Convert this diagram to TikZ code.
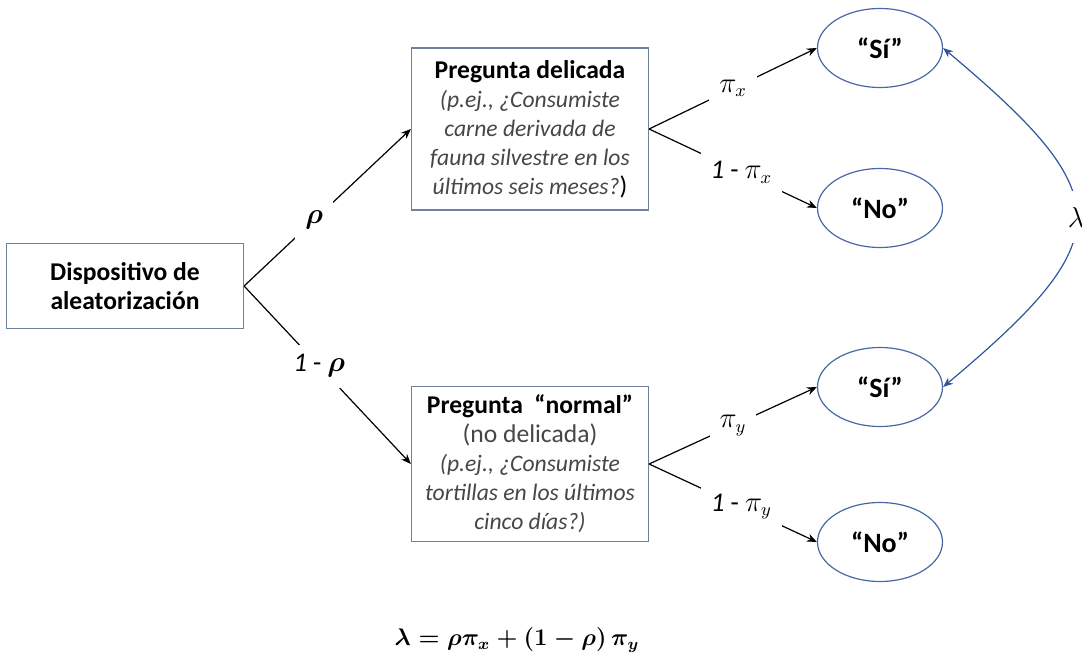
\documentclass[tikz,border=0pt]{standalone}
\usepackage{amsmath}
\usepackage{fontspec}
\setmainfont{Carlito}
\usetikzlibrary{arrows.meta,positioning,shapes.geometric}
\definecolor{boxline}{RGB}{110,130,160}
\definecolor{ovalline}{RGB}{70,105,165}
\definecolor{lamline}{RGB}{45,85,160}
\definecolor{qtext}{RGB}{70,70,70}
\newcommand{\qfont}{\fontsize{12.8}{14.5}\selectfont}
\newcommand{\pfont}{\fontsize{13.5}{15}\selectfont}
\newcommand{\ffont}{\fontsize{12}{14}\selectfont}
\newcommand{\qexample}[1]{\textcolor{qtext}{\fontsize{11.8}{14.5}\selectfont\textit{#1}}}
\tikzset{
  qbox/.style={rectangle,draw=boxline,align=center,minimum width=118.5pt,inner sep=2pt,font=\qfont},
  answer/.style={ellipse,draw=ovalline,minimum width=62.5pt,minimum height=39.5pt,inner sep=1pt,font=\bfseries\fontsize{14}{16}\selectfont},
  prob/.style={fill=white,inner sep=5pt,font=\pfont},
}

\begin{document}
\begin{tikzpicture}[x=0.5pt,y=0.5pt,>={Stealth[length=5pt,width=4pt]},semithick]
  \useasboundingbox (0,0) rectangle (1082,-652);
  % randomizing device and the two questions
  \node[qbox,minimum height=42.5pt,font=\bfseries\qfont] (disp) at (125,-286) {Dispositivo de\\aleatorización};
  \node[qbox,minimum height=81pt] (del) at (530,-129) {\textbf{Pregunta delicada}\\\qexample{(p.ej., ¿Consumiste}\\\qexample{carne derivada de}\\\qexample{fauna silvestre en los}\\\qexample{últimos seis meses?})};
  \node[qbox,minimum height=77.5pt] (norm) at (530,-464) {\textbf{Pregunta~ “normal”}\\\textcolor{qtext}{(no delicada)}\\\qexample{(p.ej., ¿Consumiste}\\\qexample{tortillas en los últimos}\\\qexample{cinco días?)}};
  % answers
  \node[answer] (si1) at (880,-48) {“Sí”};
  \node[answer] (no1) at (880,-208) {“No”};
  \node[answer] (si2) at (880,-387) {“Sí”};
  \node[answer] (no2) at (880,-542) {“No”};
  \draw[->] (disp.east) -- node[prob,pos=0.42] {$\boldsymbol{\rho}$} (del.west);
  \draw[->] (disp.east) -- node[prob,pos=0.45] {\textit{1} - $\boldsymbol{\rho}$} (norm.west);
  \draw[->] (del.east) -- node[prob] {$\pi_x$} (si1.west);
  \draw[->] (del.east) -- node[prob,pos=0.55] {\textit{1} - $\pi_x$} (no1.west);
  \draw[->] (norm.east) -- node[prob] {$\pi_y$} (si2.west);
  \draw[->] (norm.east) -- node[prob,pos=0.55] {\textit{1} - $\pi_y$} (no2.west);
  \draw[<->,draw=lamline] (si1.east) to[out=-40,in=40,looseness=1.75] node[prob,inner sep=8pt] {$\lambda$} (si2.east);
  \node[font=\ffont] (formula) at (517,-640) {$\boldsymbol{\lambda = \rho\pi_x + (1-\rho)\,\pi_y}$};
\end{tikzpicture}
\end{document}
